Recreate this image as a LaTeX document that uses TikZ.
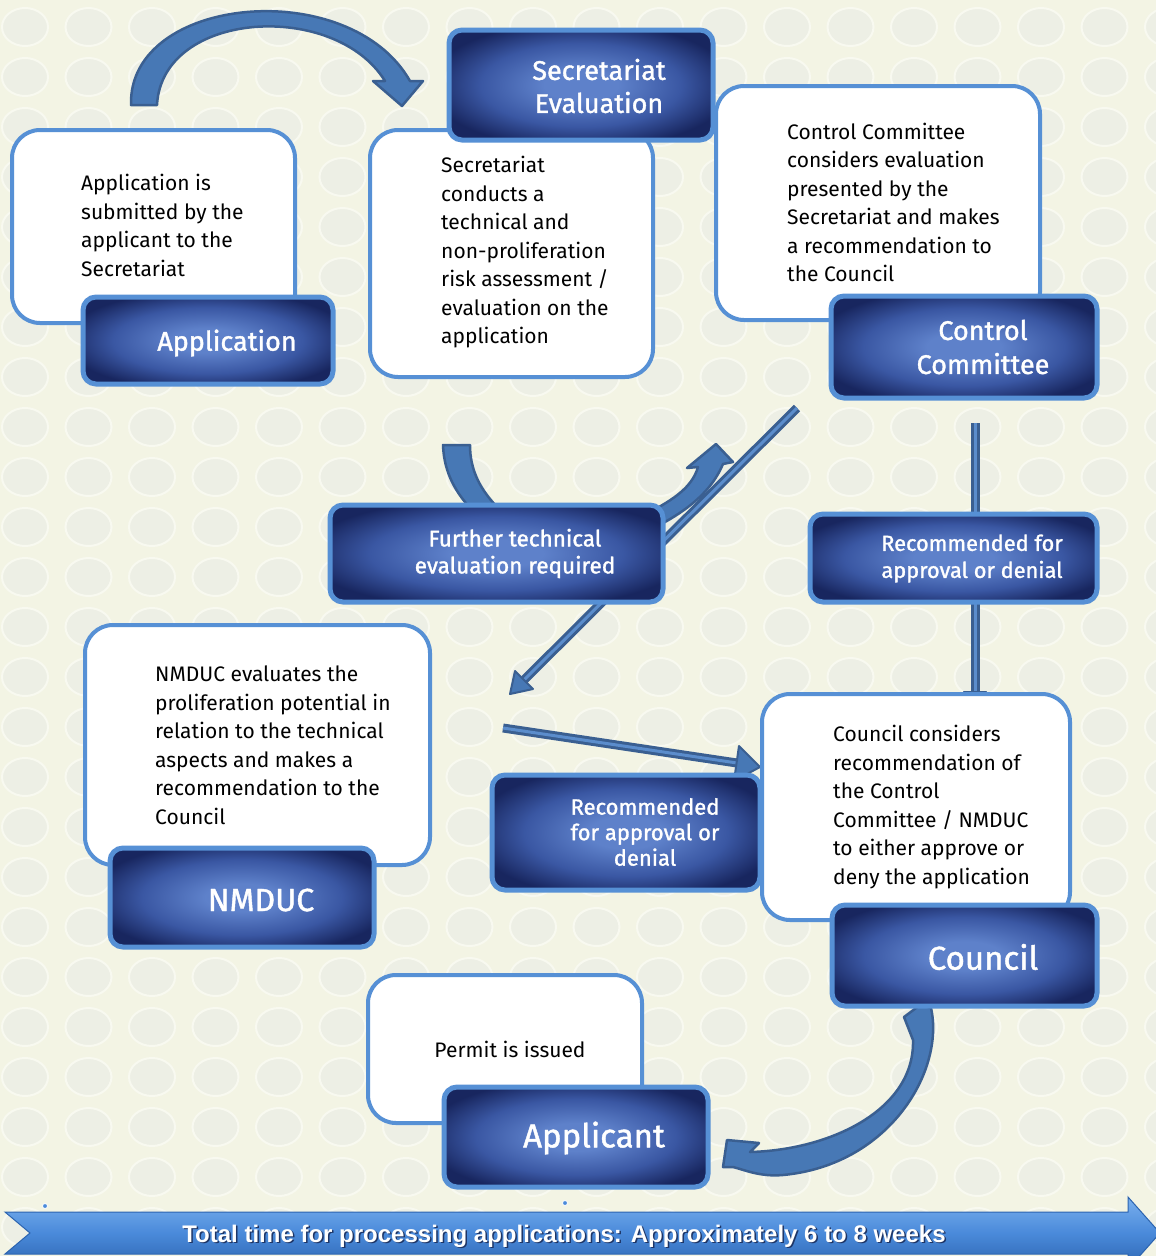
\documentclass[tikz,border=0pt]{standalone}
\usepackage{fontspec}
\setmainfont{Fira Sans}
\newfontfamily\medfont{Fira Sans}[FakeBold=1.3]
\newfontfamily\barfont{Liberation Sans}
\definecolor{bg}{HTML}{F3F4E4}
\definecolor{pat}{HTML}{EDEFE5}
\definecolor{rim}{HTML}{F8F9F0}
\definecolor{edge}{HTML}{5690D5}
\definecolor{navy}{HTML}{18265F}
\definecolor{navymid}{HTML}{3A57A3}
\definecolor{midb}{HTML}{5E81CA}
\definecolor{arrfill}{HTML}{4778B5}
\definecolor{arrline}{HTML}{3A5F91}
\definecolor{arrlight}{HTML}{5B8DCC}
\definecolor{bartop}{HTML}{7AB0EE}
\definecolor{barmid}{HTML}{4A8ADA}
\definecolor{barbot}{HTML}{2C64B0}
\definecolor{shadowc}{HTML}{1E3566}
\pgfdeclareradialshading{dshade}{\pgfpoint{0bp}{0bp}}{color(0bp)=(midb); color(7bp)=(midb); color(19bp)=(navymid); color(29bp)=(navy); color(50bp)=(navy)}
\tikzset{
  wbox/.style={draw=edge, line width=4pt, fill=white, rounded corners=28pt, inner sep=0pt},
  dbox/.style={draw=edge, line width=5pt, rounded corners=13pt, shading=dshade, inner sep=0pt},
  btext/.style={font=\fontsize{21}{28.5}\selectfont, align=left, anchor=west, inner sep=0pt, text=black},
  dtext/.style={text=white, align=center, inner sep=0pt},
  blk/.style={fill=arrfill, draw=arrline, line width=2.5pt, line join=round},
  shaftout/.style={draw=arrline, line width=9pt},
  shaftin/.style={draw=arrlight, line width=3pt},
}
\begin{document}
\begin{tikzpicture}[x=1pt,y=-1pt]
\useasboundingbox (0,0) rectangle (1156,1256);
\fill[bg] (0,0) rectangle (1156,1256);
\begin{scope}
  \clip (0,0) rectangle (1156,1256);
  \foreach \i in {0,...,18}
    \foreach \j in {0,...,25}
      \filldraw[fill=pat, draw=rim, line width=2pt] (\i*63.5+25, \j*50+27) ellipse (23pt and 19pt);
\end{scope}

% ---------- block arrows ----------
% top curved arrow
\path[blk] (131,105) .. controls (128,-5) and (350,-25) .. (410,81)
  -- (423,81) -- (402,106) -- (373,81) -- (385,81)
  .. controls (335,0) and (162,10) .. (157,105) -- cycle;
% short curved arrow into "Further technical"
\path[blk] (443,445) -- (470,445) .. controls (470,470) and (480,490) .. (500,510)
  -- (472,510) .. controls (458,495) and (444,475) .. (443,445) -- cycle;
% curved arrow up to the right
\path[blk] (650,512) .. controls (672,500) and (692,488) .. (698,467)
  -- (687,468) -- (716,444) -- (733,462) -- (723,464)
  .. controls (712,490) and (690,510) .. (650,530) -- cycle;
% diagonal straight arrow
\coordinate (dg1) at (797,408);
\coordinate (dg2) at (524,680);
\draw[shaftout] (dg1) -- (dg2);
\draw[shaftin] (dg1) -- (dg2);
\path[blk, line width=2pt] (510,694) -- (515,671) -- (533,689) -- cycle;
% arrow towards council
\coordinate (hz1) at (503,728);
\coordinate (hz2) at (737,763);
\draw[shaftout] (hz1) -- (hz2);
\draw[shaftin] (hz1) -- (hz2);
\path[blk, line width=2pt] (760,767) -- (739,746) -- (734,781) -- cycle;
% vertical arrow
\coordinate (vt1) at (975,423);
\coordinate (vt2) at (975,694);
\draw[shaftout] (vt1) -- (vt2);
\draw[shaftin] (vt1) -- (vt2);
\path[blk, line width=2pt] (975,709) -- (964,692) -- (986,692) -- cycle;
% curved arrow council -> applicant
\path[blk] (904,1017) -- (920,1005) -- (931,1008)
  .. controls (945,1070) and (890,1165) .. (783,1175)
  .. controls (760,1177) and (745,1170) .. (733,1167)
  -- (723,1167) -- (727,1140) -- (759,1143) -- (750,1152)
  .. controls (830,1150) and (915,1110) .. (913,1040) -- cycle;

% ---------- white boxes ----------
\node[wbox, minimum width=283pt, minimum height=193pt] (w1) at (153.5,226.5) {};
\node[wbox, minimum width=283pt, minimum height=247pt] (w2) at (511.5,253.5) {};
\node[wbox, minimum width=324pt, minimum height=234pt] (w3) at (878,203) {};
\node[wbox, minimum width=345pt, minimum height=240pt] (w4) at (257.5,745) {};
\node[wbox, minimum width=308pt, minimum height=226pt] (w5) at (916,807) {};
\node[wbox, minimum width=274pt, minimum height=148pt] (w6) at (505,1049) {};

% ---------- dark boxes ----------
\node[dbox, minimum width=250pt, minimum height=87pt] (d1) at (208,340.5) {};
\node[dbox, minimum width=264pt, minimum height=110pt] (d2) at (581,85) {};
\node[dbox, minimum width=266pt, minimum height=102pt] (d3) at (964,347) {};
\node[dbox, minimum width=333pt, minimum height=97pt] (d4) at (496.5,553.5) {};
\node[dbox, minimum width=287pt, minimum height=88pt] (d5) at (953.5,558) {};
\node[dbox, minimum width=264pt, minimum height=99pt] (d6) at (242,897.5) {};
\node[dbox, minimum width=268pt, minimum height=115pt] (d7) at (626,832.5) {};
\node[dbox, minimum width=265pt, minimum height=101pt] (d8) at (964.5,955.5) {};
\node[dbox, minimum width=264pt, minimum height=100pt] (d9) at (576,1137) {};

% ---------- texts in white boxes ----------
\node[btext] (t1) at (81,225.5) {Application is\\submitted by the\\applicant to the\\Secretariat};
\node[btext] (t2) at (441,252.5) {Secretariat\\conducts a\\technical and\\non-proliferation\\risk assessment /\\evaluation on the\\application};
\node[btext] (t3) at (787,202.5) {Control Committee\\considers evaluation\\presented by the\\Secretariat and makes\\a recommendation to\\the Council};
\node[btext] (t4) at (155,745) {NMDUC evaluates the\\proliferation potential in\\relation to the technical\\aspects and makes a\\recommendation to the\\Council};
\node[btext] (t5) at (833,807) {Council considers\\recommendation of\\the Control\\Committee / NMDUC\\to either approve or\\deny the application};
\node[btext, anchor=center] (t6) at (510,1049) {Permit is issued};

% ---------- texts in dark boxes ----------
\node[dtext, font=\medfont\fontsize{27}{30}\selectfont] (l1) at (227,343) {Application};
\node[dtext, font=\medfont\fontsize{27}{33}\selectfont] (l2) at (599,86) {Secretariat\\Evaluation};
\node[dtext, font=\medfont\fontsize{27}{34}\selectfont] (l3) at (983,347) {Control\\Committee};
\node[dtext, font=\medfont\fontsize{22.5}{27}\selectfont] (l4) at (515,553.5) {Further technical\\evaluation required};
\node[dtext, font=\medfont\fontsize{21.8}{27}\selectfont] (l5) at (972,558.5) {Recommended for\\approval or denial};
\node[dtext, font=\medfont\fontsize{32}{34}\selectfont] (l6) at (261,900) {NMDUC};
\node[dtext, font=\medfont\fontsize{22}{25.5}\selectfont] (l7) at (645,832) {Recommended\\for approval or\\denial};
\node[dtext, font=\medfont\fontsize{33}{34}\selectfont] (l8) at (983,957) {Council};
\node[dtext, font=\medfont\fontsize{33}{34}\selectfont] (l9) at (594,1138) {Applicant};

% ---------- bottom time bar ----------
\begin{scope}
  \clip (0,0) rectangle (1156,1256);
  \path[top color=bartop, bottom color=barbot, middle color=barmid, draw=barbot, line width=1pt]
    (5,1212) -- (1128,1212) -- (1128,1197) -- (1160,1233) -- (1128,1269) -- (1128,1254)
    -- (5,1254) -- (30,1233) -- cycle;
\end{scope}
\node[text=shadowc, inner sep=0pt] (bars) at (565.5,1237.5) {\barfont\bfseries\fontsize{24}{24}\selectfont Total time for processing applications: Approximately 6 to 8 weeks};
\node[text=white, inner sep=0pt] (bart) at (564,1236) {\barfont\bfseries\fontsize{24}{24}\selectfont Total time for processing applications: Approximately 6 to 8 weeks};
\filldraw[fill=barmid, draw=white, line width=0.8pt] (45,1206) circle (2.5pt) coordinate (dot1);
\filldraw[fill=barmid, draw=white, line width=0.8pt] (565,1203) circle (2.5pt) coordinate (dot2);
\end{tikzpicture}
\end{document}
